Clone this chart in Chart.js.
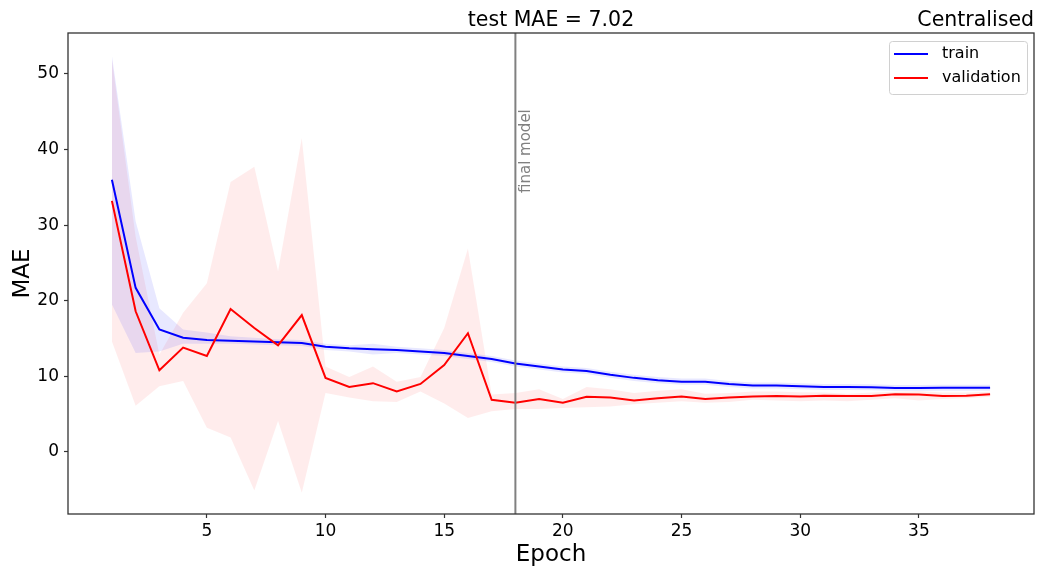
<!DOCTYPE html>
<html>
<head>
<meta charset="utf-8">
<script src="https://cdn.jsdelivr.net/npm/chart.js@4.4.1/dist/chart.umd.min.js"></script>
<style>
  html, body { margin: 0; padding: 0; background: #fff; }
  #wrap { width: 1037px; height: 570px; }
</style>
</head>
<body>
<div id="wrap"><canvas id="mae-chart" width="1037" height="570"></canvas></div>
<script>
// epochs and MAE values
const epochs = [1,2,3,4,5,6,7,8,9,10,11,12,13,14,15,16,17,18,19,20,21,22,23,24,25,26,27,28,29,30,31,32,33,34,35,36,37,38];

const trainMae = [36.0, 21.7, 16.2, 15.1, 14.8, 14.7, 14.6, 14.5, 14.4, 13.9, 13.7, 13.6, 13.5, 13.3, 13.1, 12.7, 12.3, 11.7, 11.3, 10.9, 10.7, 10.2, 9.8, 9.5, 9.3, 9.3, 9.0, 8.8, 8.8, 8.7, 8.6, 8.6, 8.55, 8.45, 8.45, 8.5, 8.5, 8.5];
const trainLow = [19.5, 13.1, 13.3, 14.3, 14.3, 14.3, 14.2, 14.1, 14.0, 13.5, 13.3, 12.9, 13.1, 12.9, 12.7, 12.3, 11.9, 11.3, 10.9, 10.5, 10.3, 9.8, 9.4, 9.1, 8.9, 8.9, 8.6, 8.4, 8.4, 8.3, 8.2, 8.2, 8.15, 8.05, 8.05, 8.1, 8.1, 8.1];
const trainHigh = [52.4, 30.5, 19.0, 16.2, 15.8, 15.3, 15.1, 14.9, 14.8, 14.3, 14.1, 14.3, 13.9, 13.7, 13.5, 13.1, 12.7, 12.1, 11.7, 11.3, 11.1, 10.6, 10.2, 9.9, 9.7, 9.7, 9.4, 9.2, 9.2, 9.1, 9.0, 9.0, 8.95, 8.85, 8.85, 8.9, 8.9, 8.9];

const valMae = [33.2, 18.6, 10.8, 13.8, 12.7, 18.9, 16.4, 14.1, 18.1, 9.8, 8.6, 9.1, 8.0, 9.0, 11.5, 15.7, 6.9, 6.5, 7.0, 6.5, 7.3, 7.2, 6.8, 7.1, 7.35, 7.0, 7.2, 7.35, 7.4, 7.35, 7.45, 7.4, 7.4, 7.65, 7.6, 7.4, 7.45, 7.65];
const valLow = [14.6, 6.1, 8.7, 9.4, 3.2, 1.9, -5.1, 4.1, -5.4, 7.8, 7.2, 6.7, 6.6, 8.0, 6.4, 4.5, 5.4, 5.7, 5.7, 5.8, 5.9, 6.0, 6.3, 6.5, 6.7, 6.5, 6.6, 6.9, 6.8, 6.7, 6.8, 6.7, 6.9, 7.1, 6.8, 7.0, 7.1, 7.3];
const valHigh = [52.0, 28.5, 12.9, 18.4, 22.3, 35.7, 37.7, 23.9, 41.5, 11.3, 9.9, 11.3, 9.3, 9.9, 16.4, 26.9, 7.6, 7.8, 8.3, 7.0, 8.6, 8.3, 7.8, 8.1, 8.3, 7.7, 7.8, 8.0, 8.0, 7.9, 7.85, 7.7, 7.85, 7.96, 8.05, 7.85, 7.85, 7.96];

const xTicks = [5, 10, 15, 20, 25, 30, 35];
const yTicks = [0, 10, 20, 30, 40, 50];
const finalEpoch = 18;
const testMae = "7.02";

const FONT = "'DejaVu Sans', sans-serif";
const AXIS_COLOR = "#333333";

function pts(ys) {
  return epochs.map((e, i) => ({ x: e, y: ys[i] }));
}

// titles, frame, final model marker and legend
const decorPlugin = {
  id: "decor",
  afterDatasetsDraw(chart) {
    const ctx = chart.ctx;
    const area = chart.chartArea;
    const xs = chart.scales.x;

    // final model line
    const vx = xs.getPixelForValue(finalEpoch);
    ctx.save();
    ctx.strokeStyle = "#808080";
    ctx.lineWidth = 2;
    ctx.beginPath();
    ctx.moveTo(vx, area.top);
    ctx.lineTo(vx, area.bottom);
    ctx.stroke();

    ctx.translate(vx + 11, 193);
    ctx.rotate(-Math.PI / 2);
    ctx.fillStyle = "#808080";
    ctx.font = "15px " + FONT;
    ctx.textAlign = "left";
    ctx.textBaseline = "middle";
    ctx.fillText("final model", 0, 0);
    ctx.restore();
  },
  afterDraw(chart) {
    const ctx = chart.ctx;
    const area = chart.chartArea;
    ctx.save();

    // frame
    ctx.strokeStyle = AXIS_COLOR;
    ctx.lineWidth = 1.3;
    ctx.strokeRect(area.left, area.top, area.right - area.left, area.bottom - area.top);

    // titles
    ctx.fillStyle = "#000";
    ctx.font = "20.5px " + FONT;
    ctx.textBaseline = "alphabetic";
    ctx.textAlign = "center";
    ctx.fillText("test MAE = " + testMae, (area.left + area.right) / 2, 26);
    ctx.textAlign = "right";
    ctx.fillText("Centralised", area.right, 26);

    // axis labels
    ctx.font = "23px " + FONT;
    ctx.textAlign = "center";
    ctx.fillText("Epoch", (area.left + area.right) / 2, 561);
    ctx.save();
    ctx.translate(29, (area.top + area.bottom) / 2);
    ctx.rotate(-Math.PI / 2);
    ctx.fillText("MAE", 0, 0);
    ctx.restore();

    // legend
    const lx = 889.5, ly = 41.5, lw = 138, lh = 53;
    ctx.beginPath();
    ctx.roundRect(lx, ly, lw, lh, 3);
    ctx.fillStyle = "rgba(255,255,255,0.8)";
    ctx.fill();
    ctx.strokeStyle = "#d0d0d0";
    ctx.lineWidth = 1;
    ctx.stroke();

    const items = [["train", "blue", 54], ["validation", "red", 78]];
    ctx.font = "16px " + FONT;
    ctx.textAlign = "left";
    ctx.textBaseline = "middle";
    for (const [name, col, yy] of items) {
      ctx.strokeStyle = col;
      ctx.lineWidth = 2;
      ctx.beginPath();
      ctx.moveTo(894, yy);
      ctx.lineTo(928, yy);
      ctx.stroke();
      ctx.fillStyle = "#000";
      ctx.fillText(name, 942, yy);
    }
    ctx.restore();
  }
};

const ctx = document.getElementById("mae-chart").getContext("2d");

const chart = new Chart(ctx, {
  type: "line",
  data: {
    datasets: [
      {
        label: "validation",
        data: pts(valMae),
        borderColor: "red",
        borderWidth: 2,
        pointRadius: 0,
        fill: false
      },
      {
        label: "train",
        data: pts(trainMae),
        borderColor: "blue",
        borderWidth: 2,
        pointRadius: 0,
        fill: false
      },
      {
        label: "train low",
        data: pts(trainLow),
        borderWidth: 0,
        borderColor: "rgba(0,0,0,0)",
        pointRadius: 0,
        fill: false
      },
      {
        label: "train high",
        data: pts(trainHigh),
        borderWidth: 0,
        borderColor: "rgba(0,0,0,0)",
        backgroundColor: "rgba(0,0,255,0.09)",
        pointRadius: 0,
        fill: "-1"
      },
      {
        label: "val low",
        data: pts(valLow),
        borderWidth: 0,
        borderColor: "rgba(0,0,0,0)",
        pointRadius: 0,
        fill: false
      },
      {
        label: "val high",
        data: pts(valHigh),
        borderWidth: 0,
        borderColor: "rgba(0,0,0,0)",
        backgroundColor: "rgba(255,0,0,0.075)",
        pointRadius: 0,
        fill: "-1"
      }
    ]
  },
  options: {
    responsive: false,
    animation: false,
    layout: {
      padding: { left: 0, top: 33, right: 3, bottom: 0 }
    },
    plugins: {
      legend: { display: false },
      tooltip: { enabled: false },
      title: { display: false }
    },
    elements: {
      line: { tension: 0 }
    },
    scales: {
      x: {
        type: "linear",
        min: -0.85,
        max: 39.85,
        border: { display: false },
        grid: {
          drawOnChartArea: false,
          drawTicks: true,
          tickLength: 4,
          tickWidth: 1.2,
          tickColor: AXIS_COLOR
        },
        ticks: {
          color: "#000",
          padding: 3,
          maxRotation: 0,
          font: { family: FONT, size: 17 }
        },
        afterBuildTicks: (scale) => {
          scale.ticks = xTicks.map(v => ({ value: v }));
        },
        afterFit: (scale) => { scale.height = 56; }
      },
      y: {
        min: -8.2,
        max: 55.4,
        border: { display: false },
        grid: {
          drawOnChartArea: false,
          drawTicks: true,
          tickLength: 4,
          tickWidth: 1.2,
          tickColor: AXIS_COLOR
        },
        ticks: {
          color: "#000",
          padding: 5,
          font: { family: FONT, size: 17 }
        },
        afterBuildTicks: (scale) => {
          scale.ticks = yTicks.map(v => ({ value: v }));
        },
        afterFit: (scale) => { scale.width = 68; }
      }
    }
  },
  plugins: [decorPlugin]
});
</script>
</body>
</html>
